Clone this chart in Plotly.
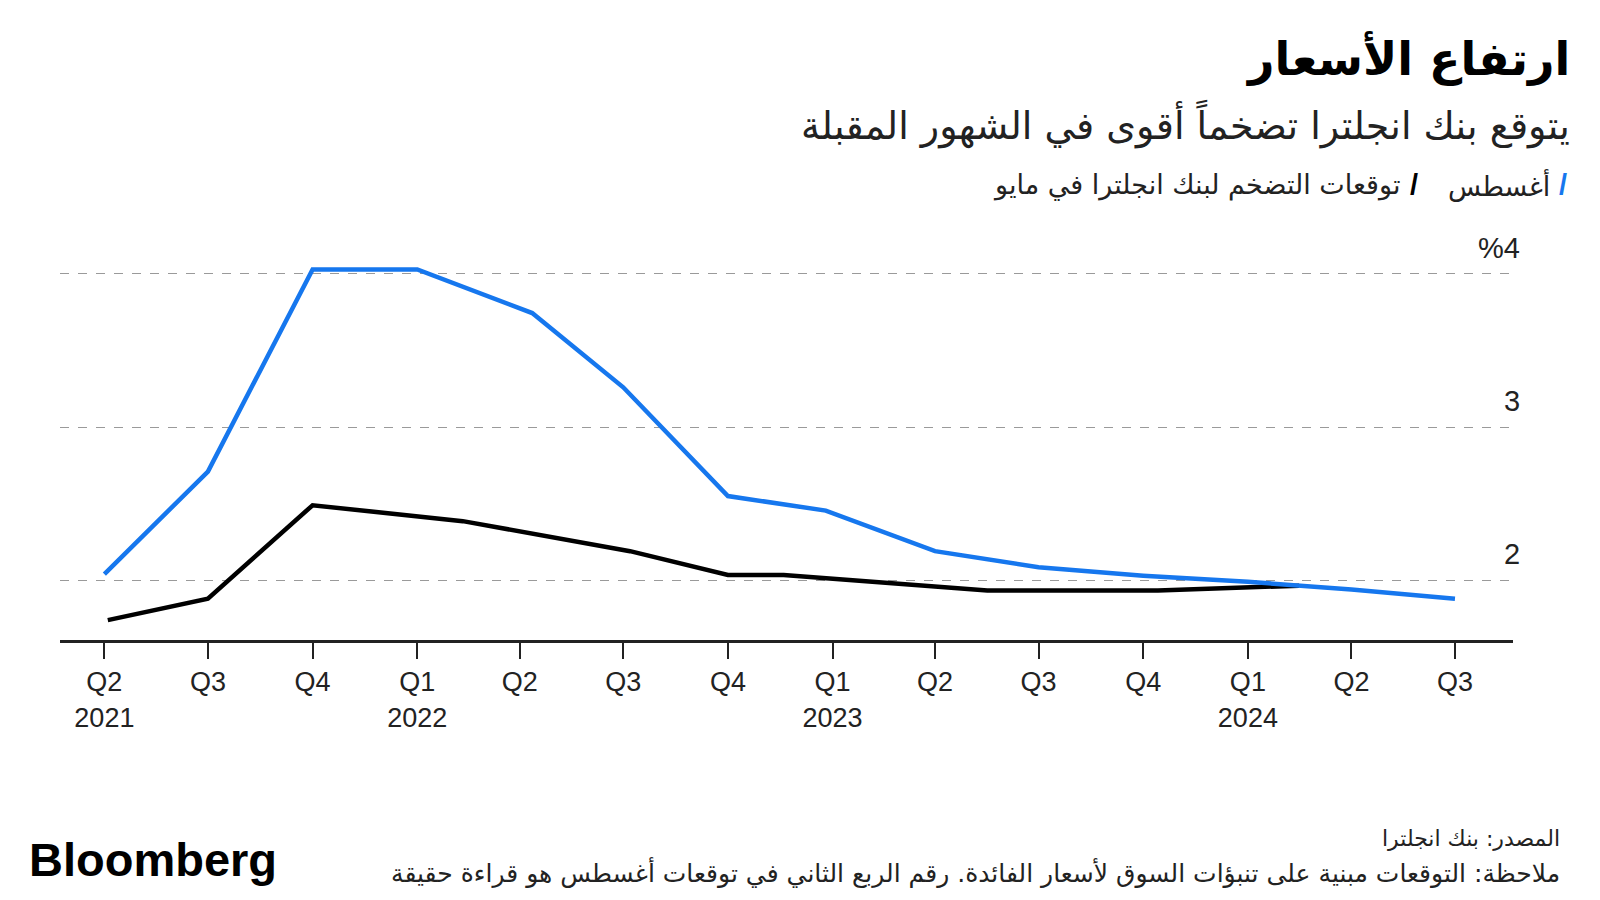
import plotly.graph_objects as go

# August forecast (blue) and May forecast (black), CPI inflation %
aug_dates = ["2021-04-01", "2021-07-01", "2021-10-01", "2022-01-01", "2022-04-12",
             "2022-07-01", "2022-10-01", "2022-12-26", "2023-04-01", "2023-07-01",
             "2023-10-01", "2024-01-01", "2024-04-01", "2024-07-01"]
aug_values = [2.04, 2.71, 4.03, 4.03, 3.745, 3.26, 2.55, 2.455, 2.19, 2.085,
              2.03, 1.99, 1.94, 1.88]

may_dates = ["2021-04-04", "2021-07-01", "2021-10-01", "2022-02-10", "2022-07-07",
             "2022-10-01", "2022-11-19", "2023-05-17", "2023-10-14", "2024-01-01",
             "2024-02-15"]
may_values = [1.74, 1.88, 2.49, 2.386, 2.19, 2.035, 2.035, 1.933, 1.933, 1.955, 1.965]

tick_dates = ["2021-04-01", "2021-07-01", "2021-10-01", "2022-01-01", "2022-04-01",
              "2022-07-01", "2022-10-01", "2023-01-01", "2023-04-01", "2023-07-01",
              "2023-10-01", "2024-01-01", "2024-04-01", "2024-07-01"]
tick_labels = ["Q2<br>2021", "Q3", "Q4", "Q1<br>2022", "Q2", "Q3", "Q4", "Q1<br>2023",
               "Q2", "Q3", "Q4", "Q1<br>2024", "Q2", "Q3"]

y_ticks = [2, 3, 4]
y_labels = ["2", "3", "%4"]

BLUE = "#1677ee"
ARABIC = "DejaVu Sans, sans-serif"
LATIN = "Liberation Sans, Arial, sans-serif"

fig = go.Figure()
fig.add_trace(go.Scatter(x=may_dates, y=may_values, mode="lines",
                         line=dict(color="#000000", width=4.5), hoverinfo="skip"))
fig.add_trace(go.Scatter(x=aug_dates, y=aug_values, mode="lines",
                         line=dict(color=BLUE, width=4.5), hoverinfo="skip"))

fig.update_layout(
    width=1600, height=900,
    margin=dict(l=60, r=87, t=251, b=260),
    plot_bgcolor="white", paper_bgcolor="white",
    showlegend=False,
    font=dict(family=LATIN, color="#222"),
)

fig.update_xaxes(
    type="date", range=["2021-02-21", "2024-08-21"],
    tickvals=tick_dates, ticktext=tick_labels,
    ticks="outside", ticklen=16, tickwidth=2, tickcolor="#222",
    showline=True, linewidth=3, linecolor="#222",
    showgrid=False, tickfont=dict(size=27, color="#222", family=LATIN),
)
fig.update_yaxes(
    range=[1.61, 4.15], tickvals=y_ticks, showticklabels=False,
    showgrid=True, gridcolor="#9a9a9a", gridwidth=1, griddash="dash",
    zeroline=False,
)

# y-axis labels sitting above the gridlines on the right
for v, lab in zip(y_ticks, y_labels):
    fig.add_annotation(x=1.006, xref="paper", y=v, yref="y", text=lab,
                       showarrow=False, xanchor="right", yanchor="middle", yshift=26,
                       font=dict(size=29, color="#222", family=LATIN))


def px_x(p):
    return (p - 60) / (1600 - 60 - 87)


def px_y(p):
    return (900 - 260 - p) / (900 - 251 - 260)


# title and subtitle
fig.add_annotation(x=px_x(1572), y=px_y(58), xref="paper", yref="paper",
                   text="<b>ارتفاع الأسعار</b>", showarrow=False,
                   xanchor="right", yanchor="middle",
                   font=dict(size=46, color="#000", family=ARABIC))
fig.add_annotation(x=px_x(1572), y=px_y(124), xref="paper", yref="paper",
                   text="يتوقع بنك انجلترا تضخماً أقوى في الشهور المقبلة", showarrow=False,
                   xanchor="right", yanchor="middle",
                   font=dict(size=38, color="#222", family=ARABIC))

# legend
fig.add_annotation(x=px_x(1569), y=px_y(185), xref="paper", yref="paper",
                   text="<b>/</b>", showarrow=False, xanchor="right", yanchor="middle",
                   font=dict(size=29, color=BLUE, family=LATIN))
fig.add_annotation(x=px_x(1552), y=px_y(185), xref="paper", yref="paper",
                   text="أغسطس", showarrow=False, xanchor="right", yanchor="middle",
                   font=dict(size=27, color="#222", family=ARABIC))
fig.add_annotation(x=px_x(1420), y=px_y(185), xref="paper", yref="paper",
                   text="<b>/</b>", showarrow=False, xanchor="right", yanchor="middle",
                   font=dict(size=29, color="#000", family=LATIN))
fig.add_annotation(x=px_x(1402), y=px_y(185), xref="paper", yref="paper",
                   text="توقعات التضخم لبنك انجلترا في مايو", showarrow=False,
                   xanchor="right", yanchor="middle",
                   font=dict(size=27, color="#222", family=ARABIC))

# footer
fig.add_annotation(x=px_x(27), y=px_y(859), xref="paper", yref="paper",
                   text="<b>Bloomberg</b>", showarrow=False, xanchor="left", yanchor="middle",
                   font=dict(size=47, color="#000", family=LATIN))
fig.add_annotation(x=px_x(1562), y=px_y(839), xref="paper", yref="paper",
                   text="المصدر: بنك انجلترا", showarrow=False,
                   xanchor="right", yanchor="middle",
                   font=dict(size=22, color="#222", family=ARABIC))
fig.add_annotation(x=px_x(1562), y=px_y(872), xref="paper", yref="paper",
                   text="ملاحظة: التوقعات مبنية على تنبؤات السوق لأسعار الفائدة. رقم الربع الثاني في توقعات أغسطس هو قراءة حقيقة",
                   showarrow=False, xanchor="right", yanchor="middle",
                   font=dict(size=25, color="#222", family=ARABIC))

fig.write_html("out.html", config={"displayModeBar": False},
               post_script="document.body.style.margin='0';")
